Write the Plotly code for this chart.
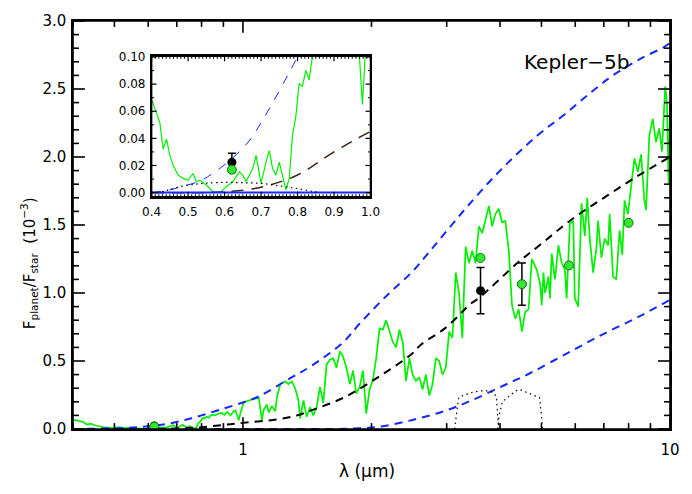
import plotly.graph_objects as go
import math

# ---- model spectrum (green), lambda in micron, Fp/Fs in 1e-3 ----
spec_wl = [0.400, 0.4136, 0.4226, 0.4316, 0.4409, 0.4499, 0.4589, 0.4725, 0.4862, 0.4998,
           0.5134, 0.5227, 0.5317, 0.5500, 0.5680, 0.5816, 0.5909, 0.6045, 0.6225, 0.6408,
           0.6498, 0.6591, 0.6681, 0.6771, 0.6863, 0.6953, 0.7000, 0.7136, 0.7226, 0.7316,
           0.7409, 0.7499, 0.7589, 0.7682, 0.7772, 0.7861, 0.7954, 0.8044, 0.8134, 0.8227,
           0.8317, 0.8407, 0.850, 0.860, 0.875, 0.890, 0.905, 0.920, 0.935, 0.950,
           0.961, 0.978, 0.987, 1.005, 1.032, 1.070, 1.089, 1.108, 1.118, 1.138,
           1.149, 1.169, 1.190, 1.201, 1.223, 1.256, 1.278, 1.301, 1.325, 1.349,
           1.361, 1.386, 1.410, 1.436, 1.462, 1.488, 1.515, 1.542, 1.570, 1.599,
           1.627, 1.656, 1.687, 1.717, 1.747, 1.779, 1.811, 1.843, 1.877, 1.910,
           1.944, 1.980, 2.015, 2.051, 2.089, 2.126, 2.164, 2.204, 2.243, 2.284,
           2.325, 2.367, 2.409, 2.453, 2.497, 2.541, 2.588, 2.634, 2.681, 2.731,
           2.780, 2.829, 2.881, 2.933, 2.985, 3.040, 3.094, 3.150, 3.206, 3.264,
           3.322, 3.383, 3.443, 3.505, 3.569, 3.633, 3.698, 3.766, 3.833, 3.901,
           3.972, 4.044, 4.116, 4.193, 4.266, 4.343, 4.422, 4.500, 4.580, 4.664,
           4.748, 4.876, 4.963, 5.008, 5.054, 5.098, 5.191, 5.237, 5.284, 5.378,
           5.479, 5.577, 5.675, 5.727, 5.829, 5.935, 5.986, 6.096, 6.206, 6.318,
           6.400, 6.490, 6.607, 6.725, 6.786, 6.908, 7.031, 7.161, 7.222, 7.355,
           7.487, 7.621, 7.730, 7.826, 7.969, 8.111, 8.256, 8.408, 8.556, 8.709,
           8.788, 8.946, 9.110, 9.273, 9.438, 9.577, 9.745, 9.835, 9.926, 10.0]
spec_fr = [0.0686, 0.0588, 0.0516, 0.0322, 0.0395, 0.0274, 0.0201, 0.0129, 0.0105, 0.0092,
           0.0141, 0.0080, 0.0092, 0.0056, 0.0007, 0.0000, 0.0007, 0.0044, 0.0080, 0.0153,
           0.0129, 0.0080, 0.0129, 0.0177, 0.0274, 0.0153, 0.0068, 0.0225, 0.0310, 0.0177,
           0.0129, 0.0225, 0.0129, 0.0020, 0.0105, 0.0419, 0.0564, 0.0806, 0.0782, 0.0903,
           0.0831, 0.1000, 0.106, 0.100, 0.112, 0.118, 0.104, 0.125, 0.100, 0.130,
           0.137, 0.065, 0.120, 0.197, 0.210, 0.220, 0.230, 0.065, 0.140, 0.180,
           0.120, 0.170, 0.130, 0.230, 0.330, 0.350, 0.330, 0.350, 0.300, 0.210,
           0.077, 0.210, 0.090, 0.160, 0.100, 0.160, 0.310, 0.190, 0.475, 0.510,
           0.520, 0.450, 0.570, 0.530, 0.450, 0.330, 0.430, 0.260, 0.310, 0.430,
           0.113, 0.290, 0.360, 0.520, 0.740, 0.730, 0.800, 0.720, 0.640, 0.600,
           0.730, 0.640, 0.354, 0.520, 0.400, 0.354, 0.380, 0.290, 0.400, 0.246,
           0.330, 0.520, 0.500, 0.400, 0.450, 0.716, 0.670, 1.150, 1.000, 0.670,
           1.340, 1.220, 1.310, 1.220, 1.490, 1.440, 1.530, 1.640, 1.490, 1.580,
           1.620, 1.520, 1.530, 1.310, 0.910, 0.810, 0.880, 0.716, 0.860, 0.880,
           1.250, 1.170, 1.070, 0.910, 1.150, 1.000, 1.120, 0.960, 1.290, 1.100,
           1.350, 1.220, 1.170, 0.960, 1.510, 1.530, 0.960, 0.900, 1.660, 1.420,
           1.700, 1.400, 1.150, 1.330, 1.530, 1.260, 1.400, 1.350, 1.580, 1.120,
           1.100, 1.460, 1.280, 1.680, 1.580, 1.780, 1.990, 1.890, 2.020, 1.680,
           1.610, 2.160, 2.280, 2.110, 2.210, 2.040, 2.520, 2.400, 1.800, 2.400]

# ---- blackbody-like models ----
hot_wl = [0.40, 0.45, 0.485, 0.531, 0.576, 0.622, 0.667, 0.712, 0.758, 0.80, 0.90, 1.0,
          1.09, 1.3, 1.44, 1.72, 1.87, 2.17, 2.48, 2.71, 2.97, 3.34, 4.0, 4.9, 5.65,
          6.5, 7.35, 8.5, 9.7, 10.0]
hot_fr = [0.0, 0.002, 0.0047, 0.0084, 0.0157, 0.0255, 0.038, 0.057, 0.079, 0.10, 0.15, 0.195,
          0.24, 0.38, 0.46, 0.64, 0.77, 0.98, 1.15, 1.29, 1.44, 1.63, 1.90, 2.16, 2.31,
          2.47, 2.60, 2.72, 2.81, 2.84]

mid_wl = [0.40, 0.55, 0.60, 0.70, 0.80, 0.90, 1.0, 1.2, 1.34, 1.44, 1.72, 2.07, 2.48,
          2.61, 2.97, 3.26, 3.38, 3.59, 4.39, 4.9, 5.94, 7.0, 8.3, 10.0]
mid_fr = [0.0, 0.0, 0.0005, 0.004, 0.013, 0.03, 0.045, 0.07, 0.10, 0.135, 0.23, 0.38, 0.55,
          0.62, 0.74, 0.86, 0.91, 0.97, 1.22, 1.34, 1.55, 1.70, 1.85, 2.0]

cold_wl = [0.40, 1.0, 1.5, 1.8, 2.07, 2.48, 2.95, 3.4, 4.08, 4.7, 5.77, 7.0, 8.5, 10.0]
cold_fr = [0.0, 0.0, 0.0, 0.003, 0.015, 0.065, 0.13, 0.205, 0.32, 0.41, 0.56, 0.70, 0.83, 0.95]

# ---- bandpasses (dotted) ----
irac1_wl = [3.13, 3.16, 3.20, 3.30, 3.45, 3.60, 3.75, 3.85, 3.92, 3.95, 3.97]
irac1_rs = [0.0, 0.10, 0.23, 0.25, 0.27, 0.28, 0.28, 0.27, 0.24, 0.10, 0.0]
irac2_wl = [3.95, 3.98, 4.05, 4.20, 4.35, 4.45, 4.60, 4.80, 4.95, 5.00, 5.03]
irac2_rs = [0.0, 0.10, 0.20, 0.24, 0.28, 0.29, 0.27, 0.25, 0.23, 0.10, 0.0]
kep_wl = [0.415, 0.44, 0.477, 0.52, 0.55, 0.60, 0.65, 0.70, 0.75, 0.80, 0.84, 0.86]
kep_rs = [0.0, 0.0015, 0.0044, 0.0062, 0.0070, 0.0075, 0.0073, 0.0068, 0.0050, 0.0030, 0.0010, 0.0]

# ---- observations and band-averaged model ----
obs_wl = [0.62, 3.6, 4.5]
obs_fr = [0.0223, 1.017, 1.065]
obs_err = [0.0067, 0.17, 0.155]
band_wl = [0.62, 3.6, 4.5, 5.8, 8.0]
band_fr = [0.0169, 1.258, 1.065, 1.203, 1.516]

# ---- tick values ----
main_x_major = [1, 10]
main_x_minor = [0.4, 0.5, 0.6, 0.7, 0.8, 0.9, 2, 3, 4, 5, 6, 7, 8, 9]
main_y_major = [0.0, 0.5, 1.0, 1.5, 2.0, 2.5, 3.0]
ins_x_major = [0.4, 0.5, 0.6, 0.7, 0.8, 0.9, 1.0]
ins_y_major = [0.0, 0.02, 0.04, 0.06, 0.08, 0.10]

BLUE = "rgb(20,40,255)"
GREEN = "rgb(0,240,0)"

X_RANGE = [math.log10(0.4), 1.0]
Y_RANGE = [0, 3.0]
IX_RANGE = [0.4, 1.0]
IY_RANGE = [-0.003, 0.1005]
IX_DOM = [0.1317, 0.4983]
IY_DOM = [0.5694, 0.9134]
FIG_W, FIG_H = 692, 494
MARG = dict(l=73, r=19, t=13, b=65)
PW = FIG_W - MARG["l"] - MARG["r"]
PH = FIG_H - MARG["t"] - MARG["b"]

fig = go.Figure()

def add_set(xa, ya, inset):
    w = 1.0 if inset else 1.5
    fig.add_trace(go.Scatter(x=spec_wl, y=spec_fr, mode="lines", line=dict(color=GREEN, width=w + 0.2),
                             xaxis=xa, yaxis=ya, showlegend=False, hoverinfo="skip"))
    fig.add_trace(go.Scatter(x=hot_wl, y=hot_fr, mode="lines", line_shape="spline",
                             line=dict(color=BLUE, width=1.0 if inset else 2, dash="9px,9px" if inset else "8px,6px"),
                             xaxis=xa, yaxis=ya, showlegend=False, hoverinfo="skip"))
    fig.add_trace(go.Scatter(x=mid_wl, y=mid_fr, mode="lines", line_shape="spline",
                             line=dict(color="rgb(60,35,20)" if inset else "black", width=1.5 if inset else 2,
                                       dash="12px,8px" if inset else "8px,6px"),
                             xaxis=xa, yaxis=ya, showlegend=False, hoverinfo="skip"))
    fig.add_trace(go.Scatter(x=cold_wl, y=cold_fr, mode="lines", line_shape="spline",
                             line=dict(color=BLUE, width=2, dash="solid" if inset else "8px,6px"),
                             xaxis=xa, yaxis=ya, showlegend=False, hoverinfo="skip"))
    if inset:
        fig.add_trace(go.Scatter(x=kep_wl, y=kep_rs, mode="lines", line_shape="spline",
                                 line=dict(color="black", width=1.2, dash="1.5px,3.5px"),
                                 xaxis=xa, yaxis=ya, showlegend=False, hoverinfo="skip"))
    else:
        for wl, rs in ((irac1_wl, irac1_rs), (irac2_wl, irac2_rs)):
            fig.add_trace(go.Scatter(x=wl, y=rs, mode="lines",
                                     line=dict(color="black", width=1.2, dash="1.5px,3.5px"),
                                     xaxis=xa, yaxis=ya, showlegend=False, hoverinfo="skip"))
    fig.add_trace(go.Scatter(x=obs_wl, y=obs_fr, mode="markers",
                             marker=dict(color="black", size=9),
                             error_y=dict(type="data", array=obs_err, color="black", thickness=1.5, width=4),
                             xaxis=xa, yaxis=ya, showlegend=False, hoverinfo="skip"))
    fig.add_trace(go.Scatter(x=band_wl, y=band_fr, mode="markers",
                             marker=dict(color="rgb(50,230,50)", size=9, line=dict(color="rgb(20,120,20)", width=1)),
                             xaxis=xa, yaxis=ya, showlegend=False, hoverinfo="skip"))

add_set("x", "y", False)
add_set("x2", "y2", True)

# ---- tick marks (inside, on all four sides) drawn as axis-domain shapes ----
shapes = []

def frac(v, rng, log=False):
    t = math.log10(v) if log else v
    return (t - rng[0]) / (rng[1] - rng[0])

def tick_marks(xref, yref, xvals, yvals, xrng, yrng, xlog, wpx, hpx, length, width):
    for v in xvals:
        f = frac(v, xrng, xlog)
        if -1e-9 <= f <= 1 + 1e-9:
            L = length / hpx
            shapes.append(dict(type="line", xref=xref, yref=yref, x0=f, x1=f, y0=0, y1=L,
                               line=dict(color="black", width=width), layer="above"))
            shapes.append(dict(type="line", xref=xref, yref=yref, x0=f, x1=f, y0=1, y1=1 - L,
                               line=dict(color="black", width=width), layer="above"))
    for v in yvals:
        f = frac(v, yrng)
        if -1e-9 <= f <= 1 + 1e-9:
            L = length / wpx
            shapes.append(dict(type="line", xref=xref, yref=yref, x0=0, x1=L, y0=f, y1=f,
                               line=dict(color="black", width=width), layer="above"))
            shapes.append(dict(type="line", xref=xref, yref=yref, x0=1, x1=1 - L, y0=f, y1=f,
                               line=dict(color="black", width=width), layer="above"))

main_y_minor = [round(i * 0.1, 2) for i in range(31) if i % 5 != 0]
ins_x_minor = [round(0.4 + i * 0.01, 3) for i in range(61) if i % 10 != 0]
ins_y_minor = [0.01, 0.03, 0.05, 0.07, 0.09]
iw = PW * (IX_DOM[1] - IX_DOM[0])
ih = PH * (IY_DOM[1] - IY_DOM[0])

tick_marks("x domain", "y domain", main_x_major, main_y_major, X_RANGE, Y_RANGE, True, PW, PH, 12, 1.6)
tick_marks("x domain", "y domain", main_x_minor, main_y_minor, X_RANGE, Y_RANGE, True, PW, PH, 6, 1.6)
tick_marks("x2 domain", "y2 domain", ins_x_major, ins_y_major, IX_RANGE, IY_RANGE, False, iw, ih, 5, 1.2)
tick_marks("x2 domain", "y2 domain", ins_x_minor, ins_y_minor, IX_RANGE, IY_RANGE, False, iw, ih, 2.5, 1.0)

shapes.append(dict(type="rect", xref="x domain", yref="y domain", x0=0, x1=1, y0=0, y1=1,
                   line=dict(color="black", width=1.6), fillcolor="rgba(0,0,0,0)", layer="above"))
shapes.append(dict(type="rect", xref="x2 domain", yref="y2 domain", x0=0, x1=1, y0=0, y1=1,
                   line=dict(color="black", width=1.5), fillcolor="rgba(0,0,0,0)", layer="above"))

FONT = "DejaVu Sans"
axis_common = dict(showline=True, linecolor="black", linewidth=1.5, mirror=True,
                   ticks="", showgrid=False, zeroline=False)

fig.update_layout(
    width=FIG_W, height=FIG_H,
    margin=MARG,
    paper_bgcolor="white", plot_bgcolor="white",
    font=dict(family=FONT, color="black", size=15),
    xaxis=dict(type="log", range=X_RANGE, tickvals=main_x_major, ticktext=["1", "10"],
               tickfont=dict(size=15), ticklabelstandoff=6, **axis_common),
    yaxis=dict(range=Y_RANGE, tickvals=main_y_major, tickformat=".1f", tickfont=dict(size=15),
               ticklabelstandoff=2, **axis_common),
    xaxis2=dict(domain=IX_DOM, anchor="y2", range=IX_RANGE, tickvals=ins_x_major,
                tickformat=".1f", tickfont=dict(size=12), ticklabelstandoff=3, **axis_common),
    yaxis2=dict(domain=IY_DOM, anchor="x2", range=IY_RANGE, tickvals=ins_y_major,
                tickformat=".2f", tickfont=dict(size=12), ticklabelstandoff=2, **axis_common),
    shapes=shapes,
    annotations=[
        dict(text="F<sub>planet</sub>/F<sub>star</sub>  (10<sup>\u22123</sup>)", textangle=-90,
             xref="paper", yref="paper", x=-0.074, y=0.406, showarrow=False,
             xanchor="center", yanchor="middle", font=dict(size=15)),
        dict(text="\u03bb (\u03bcm)", xref="paper", yref="paper", x=0.493, y=-0.103,
             showarrow=False, xanchor="center", yanchor="middle", font=dict(size=17)),
        dict(text="Kepler\u22125b", xref="paper", yref="paper", x=0.843, y=0.899,
             showarrow=False, xanchor="center", yanchor="middle", font=dict(size=20)),
    ],
)

fig.write_html("out.html", config={"displayModeBar": False},
               post_script="document.body.style.margin='0px';document.body.style.overflow='hidden';")
